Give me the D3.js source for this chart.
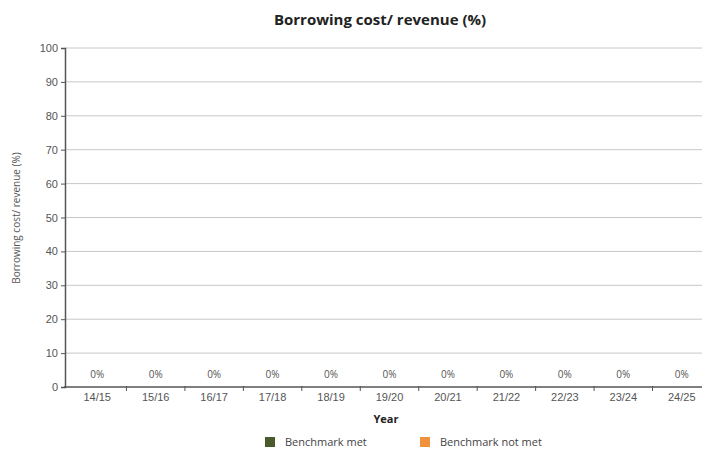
<!DOCTYPE html>
<html>
<head>
<meta charset="utf-8">
<script src="https://cdnjs.cloudflare.com/ajax/libs/d3/7.8.5/d3.min.js"></script>
<style>
  body { margin: 0; background: #fff; }
  svg { font-family: "Open Sans", "DejaVu Sans", sans-serif; }
</style>
</head>
<body>
<div id="chart"></div>
<script>
const years = ['14/15', '15/16', '16/17', '17/18', '18/19', '19/20', '20/21', '21/22', '22/23', '23/24', '24/25'];
const borrowingCost = [0, 0, 0, 0, 0, 0, 0, 0, 0, 0, 0];
const benchmarkMet = [true, true, true, true, true, true, true, true, true, true, true];
const yTicks = [0, 10, 20, 30, 40, 50, 60, 70, 80, 90, 100];
const legendItems = ['Benchmark met', 'Benchmark not met'];
const legendColors = ['#4b5a2c', '#f0913c'];

const width = 706, height = 452;
const svg = d3.select('#chart').append('svg')
    .attr('width', width)
    .attr('height', height);

const x = d3.scaleBand()
    .domain(years)
    .range([68, 711])
    .paddingInner(0.3)
    .paddingOuter(0.15);

const y = d3.scaleLinear()
    .domain([0, 100])
    .range([387, 48]);

// gridlines
svg.append('g')
    .selectAll('line')
    .data(yTicks.filter(d => d > 0))
    .join('line')
    .attr('x1', 65)
    .attr('x2', 702)
    .attr('y1', d => y(d))
    .attr('y2', d => y(d))
    .attr('stroke', '#c8c8c8')
    .attr('stroke-width', 1);

// y axis
const yAxis = svg.append('g')
    .attr('transform', 'translate(65,0)')
    .call(d3.axisLeft(y).tickValues(yTicks).tickSize(4).tickPadding(3));
yAxis.select('.domain').attr('stroke', '#555').attr('stroke-width', 1.5);
yAxis.selectAll('.tick line').attr('stroke', '#555');
yAxis.selectAll('.tick text').attr('fill', '#555').style('font-size', '11px');

// bars
svg.append('g')
    .selectAll('rect')
    .data(borrowingCost)
    .join('rect')
    .attr('x', (d, i) => x(years[i]))
    .attr('y', d => y(d))
    .attr('width', x.bandwidth())
    .attr('height', d => y(0) - y(d))
    .attr('fill', (d, i) => benchmarkMet[i] ? legendColors[0] : legendColors[1]);

// x axis
const xAxis = svg.append('g')
    .attr('transform', `translate(0,${y(0)})`)
    .call(d3.axisBottom(x).tickSize(0).tickPadding(6));
xAxis.select('.domain').remove();
xAxis.selectAll('.tick text').attr('fill', '#555').style('font-size', '11px');

svg.append('line')
    .attr('x1', 64)
    .attr('x2', 702)
    .attr('y1', y(0))
    .attr('y2', y(0))
    .attr('stroke', '#555')
    .attr('stroke-width', 1.5);

// separator ticks between categories
svg.append('g')
    .selectAll('line')
    .data(years.slice(1))
    .join('line')
    .attr('x1', d => x(d) - x.step() * x.paddingInner() / 2)
    .attr('x2', d => x(d) - x.step() * x.paddingInner() / 2)
    .attr('y1', y(0) - 1)
    .attr('y2', y(0) + 4)
    .attr('stroke', '#555');

// value labels
svg.append('g')
    .selectAll('text')
    .data(borrowingCost)
    .join('text')
    .attr('x', (d, i) => x(years[i]) + x.bandwidth() / 2)
    .attr('y', d => y(d) - 9)
    .attr('text-anchor', 'middle')
    .attr('fill', '#555')
    .style('font-size', '10px')
    .text(d => d + '%');

// title
svg.append('text')
    .attr('x', 380)
    .attr('y', 25)
    .attr('text-anchor', 'middle')
    .attr('fill', '#222')
    .style('font-size', '15px')
    .style('font-weight', 'bold')
    .text('Borrowing cost/ revenue (%)');

// axis titles
svg.append('text')
    .attr('transform', 'translate(20,218) rotate(-90)')
    .attr('text-anchor', 'middle')
    .attr('fill', '#555')
    .style('font-size', '10px')
    .text('Borrowing cost/ revenue (%)');

svg.append('text')
    .attr('x', 386)
    .attr('y', 423)
    .attr('text-anchor', 'middle')
    .attr('fill', '#222')
    .style('font-size', '11px')
    .style('font-weight', 'bold')
    .text('Year');

// legend
const legendX = [265, 420];
const legend = svg.append('g');
legendItems.forEach((label, i) => {
    const row = legend.append('g')
        .attr('transform', `translate(${legendX[i]},437)`);
    row.append('rect')
        .attr('width', 10)
        .attr('height', 10)
        .attr('fill', legendColors[i]);
    row.append('text')
        .attr('x', 20)
        .attr('y', 5)
        .attr('dy', '0.35em')
        .attr('fill', '#444')
        .style('font-size', '11px')
        .text(label);
});
</script>
</body>
</html>
